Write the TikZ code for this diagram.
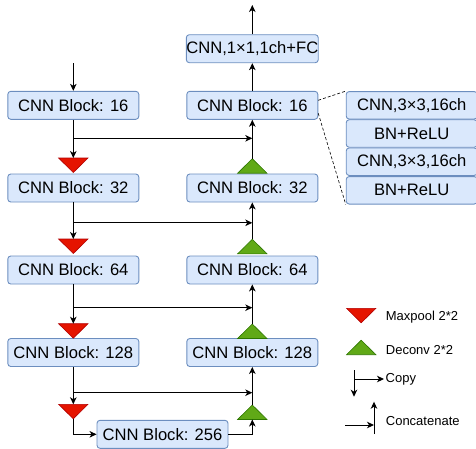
\documentclass[tikz,border=0pt]{standalone}
\usepackage{fontspec}
\setmainfont{Liberation Sans}
\usetikzlibrary{arrows.meta,calc}
\definecolor{boxfill}{HTML}{DAE8FC}
\definecolor{boxline}{HTML}{6C8EBF}
\definecolor{redfill}{HTML}{E51400}
\definecolor{redline}{HTML}{B20000}
\definecolor{greenfill}{HTML}{60A917}
\definecolor{greenline}{HTML}{2D7600}
\tikzset{
  blk/.style={draw=boxline,fill=boxfill,line width=0.9pt,rounded corners=3pt,
    minimum width=131pt,minimum height=28pt,inner sep=0pt,
    font=\fontsize{16.6}{19}\selectfont},
  det/.style={blk,minimum height=27.5pt},
  arr/.style={line width=1pt,-{Stealth[length=7pt,width=6.5pt,inset=2pt]}},
  ln/.style={line width=1pt},
  leg/.style={anchor=west,inner sep=0pt,font=\fontsize{13}{15}\selectfont},
  pooltri/.pic={\draw[fill=redfill,draw=redline,line width=0.6pt] (-14.7,0) -- (14.7,0) -- (0,14.5) -- cycle;},
  deconvtri/.pic={\draw[fill=greenfill,draw=greenline,line width=0.6pt] (-14.7,0) -- (14.7,0) -- (0,-14.5) -- cycle;}
}
\begin{document}
\begin{tikzpicture}[x=1pt,y=-1pt]
\useasboundingbox (0,0) rectangle (476,448);
% left column
\node[blk] (L16) at (73.3,105.3) {CNN Block: 16};
\node[blk] (L32) at (73.3,188) {CNN Block: 32};
\node[blk] (L64) at (73.3,270) {CNN Block: 64};
\node[blk] (L128) at (73.3,352.5) {CNN Block: 128};
\node[blk] (B256) at (162.5,434.3) {CNN Block: 256};
% right column
\node[blk] (FC) at (252.3,48.7) {CNN,1×1,1ch+FC};
\node[blk] (R16) at (252.3,105.3) {CNN Block: 16};
\node[blk] (R32) at (252.3,188) {CNN Block: 32};
\node[blk] (R64) at (252.3,270) {CNN Block: 64};
\node[blk] (R128) at (252.3,352.5) {CNN Block: 128};
% detail boxes
\node[det] (D1) at (411.7,105.3) {CNN,3×3,16ch};
\node[det] (D2) at (411.7,133.5) {BN+ReLU};
\node[det] (D3) at (411.7,161.7) {CNN,3×3,16ch};
\node[det] (D4) at (411.7,190.3) {BN+ReLU};
\draw[densely dashed,line width=0.6pt] ($(R16.east)+(0,-5)$) -- (D1.north west);
\draw[densely dashed,line width=0.6pt] ($(R16.east)+(0,8)$) -- (D4.south west);
% triangles
\coordinate (p1) at (73.3,158);
\coordinate (p2) at (73.3,239);
\coordinate (p3) at (73.3,323.7);
\coordinate (p4) at (73.3,404.3);
\coordinate (q4) at (73.3,418.8);
\foreach \p in {p1,p2,p3,p4} {\pic at (\p) {pooltri};}
\coordinate (g1) at (252.3,158.7);
\coordinate (g2) at (252.3,239.3);
\coordinate (g3) at (252.3,324);
\coordinate (g4) at (252.3,405);
\coordinate (h1) at (252.3,173.2);
\coordinate (h2) at (252.3,253.8);
\coordinate (h3) at (252.3,338.5);
\coordinate (h4) at (252.3,419.5);
\foreach \g in {h1,h2,h3,h4} {\pic at (\g) {deconvtri};}
% input / output
\coordinate (in) at (73.3,63);
\coordinate (out) at (252.3,5);
\draw[arr] (in) -- (L16.north);
\draw[arr] (FC.north) -- (out);
\draw[arr] (R16.north) -- (FC.south);
% down path
\draw[arr] (L16.south) -- (p1);
\draw[arr] (L32.south) -- (p2);
\draw[arr] (L64.south) -- (p3);
\draw[arr] (L128.south) -- (p4);
\draw[arr] (q4) |- (B256.west);
% copy lines
\coordinate (c1) at (73.3,138.3);
\coordinate (c2) at (73.3,222.8);
\coordinate (c3) at (73.3,307.7);
\coordinate (c4) at (73.3,392.7);
\foreach \c in {c1,c2,c3,c4} {\draw[arr] (\c) -- (\c -| R16.south);}
% up path
\draw[arr] (B256.east) -| (h4);
\draw[arr] (g4) -- (R128.south);
\draw[arr] (g3) -- (R64.south);
\draw[arr] (g2) -- (R32.south);
\draw[arr] (g1) -- (R16.south);
% legend
\coordinate (lp) at (361.2,308.3);
\coordinate (lg) at (361.2,354.7);
\pic at (lp) {pooltri};
\pic at (lg) {deconvtri};
\node[leg] (tm) at (385.7,317.3) {Maxpool 2*2};
\node[leg] (td) at (385.7,350) {Deconv 2*2};
\coordinate (ca) at (354,370);
\coordinate (cb) at (354,396.7);
\coordinate (cc) at (354,379);
\coordinate (cd) at (384,379);
\draw[arr] (ca) -- (cb);
\draw[arr] (cc) -- (cd);
\node[leg] (tc) at (385.5,379) {Copy};
\coordinate (ka) at (374,434);
\coordinate (kb) at (374,401.7);
\coordinate (kc) at (345,425);
\coordinate (kd) at (374,425);
\draw[arr] (ka) -- (kb);
\draw[arr] (kc) -- (kd);
\node[leg] (tk) at (385.7,421) {Concatenate};
\end{tikzpicture}
\end{document}
